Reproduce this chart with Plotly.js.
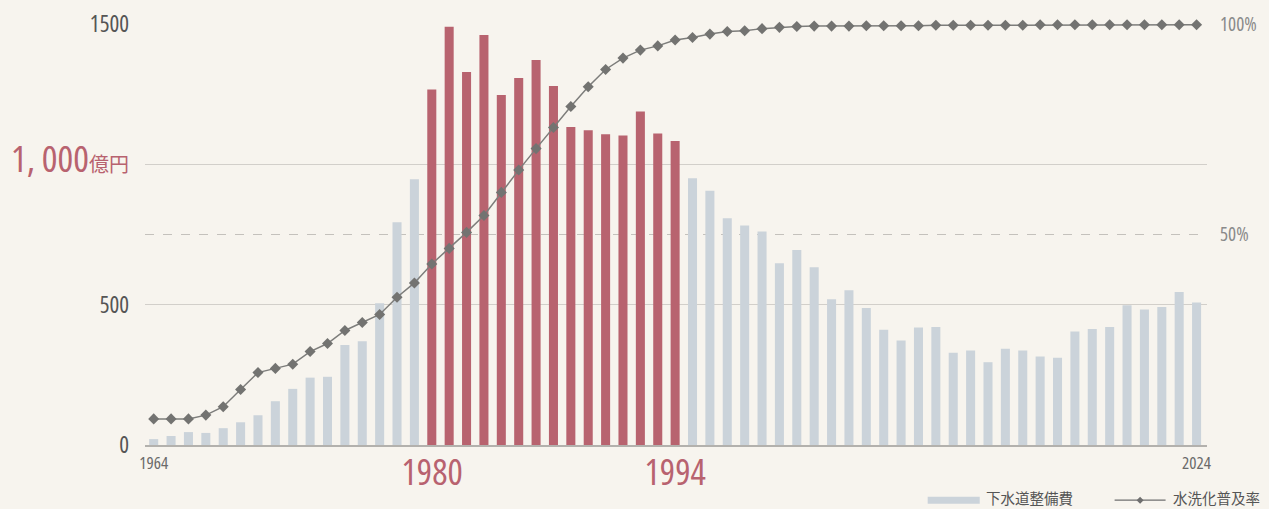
<!DOCTYPE html>
<html>
<head>
<meta charset="utf-8">
<script src="https://cdn.plot.ly/plotly-3.0.1.min.js"></script>
<style>
  html, body { margin: 0; padding: 0; background: #f7f4ee; }
  #chart { width: 1269px; height: 509px; }
  #chart text { font-stretch: 75%; }
</style>
</head>
<body>
<div id="chart"></div>
<script>
// ---- data ----
const years = [];
for (let y = 1964; y <= 2024; y++) years.push(y);

// 下水道整備費 (億円)
const spending = [
  21, 32, 46, 43, 60, 81, 106, 156, 200, 240,
  243, 356, 370, 505, 794, 947, 1267, 1490, 1329, 1461,
  1247, 1308, 1372, 1279, 1133, 1121, 1107, 1103, 1188, 1110,
  1083, 950, 906, 808, 782, 761, 648, 695, 633, 519,
  551, 488, 411, 372, 419, 420, 329, 337, 295, 343,
  337, 315, 311, 404, 413, 420, 498, 483, 492, 545,
  508
];

// 水洗化普及率 (%)
const rate = [
  6.2, 6.2, 6.2, 7.1, 9.1, 13.2, 17.2, 18.2, 19.2, 22.2,
  24.1, 27.2, 29.1, 31.0, 35.1, 38.5, 43.0, 46.7, 50.5, 54.5,
  60.0, 65.3, 70.4, 75.4, 80.4, 85.1, 89.2, 91.9, 93.8, 94.8,
  96.2, 96.8, 97.6, 98.2, 98.4, 98.9, 99.2, 99.4, 99.5, 99.5,
  99.5, 99.6, 99.6, 99.6, 99.6, 99.7, 99.7, 99.7, 99.7, 99.7,
  99.7, 99.8, 99.8, 99.8, 99.8, 99.8, 99.8, 99.8, 99.8, 99.8,
  99.8
];

const highlightStart = 1980;
const highlightEnd = 1994;

const leftTicks = [0, 500, 1000, 1500];
const leftTickText = ['0', '500',
  "<span style='font-size:37px;color:#b8626f'>1, 000</span><span style='font-family:Noto Sans CJK JP;font-size:20px;color:#b8626f'>億円</span>",
  '1500'];
const rightTicks = [50, 100];
const rightTickText = ['50%', '100%'];
const xTicks = [1964, 2024];
const xTickText = ['1964', '2024'];
const highlightLabels = [1980, 1994];

// ---- style ----
const RED = '#b8636f';
const GREY = '#cbd3da';
const FONT = "'Open Sans', 'DejaVu Sans', sans-serif";
const barColors = years.map(y => (y >= highlightStart && y <= highlightEnd) ? RED : GREY);

const bars = {
  type: 'bar', x: years, y: spending, name: '下水道整備費',
  marker: { color: barColors, line: { width: 0 } },
  width: 0.52, hoverinfo: 'x+y', showlegend: false
};
const line = {
  type: 'scatter', mode: 'lines+markers', x: years, y: rate, yaxis: 'y2',
  name: '水洗化普及率', line: { color: '#7d7d7b', width: 1.5 },
  marker: { symbol: 'diamond', size: 8.5, color: '#737371' },
  cliponaxis: false, showlegend: false
};

// legend geometry in paper units
const pxX = 1 / 1062, pxY = 1 / 421;
const legY = -0.131;
const txtY = -0.124;
const dX = 0.937;

const layout = {
  width: 1269, height: 509,
  paper_bgcolor: '#f7f4ee', plot_bgcolor: '#f7f4ee',
  margin: { l: 145, r: 62, t: 24, b: 64 },
  font: { family: FONT, color: '#5b5b5b' },
  xaxis: {
    range: [1963.5, 2024.6], showgrid: false, zeroline: false,
    showline: true, linecolor: '#b3b1ad', linewidth: 2,
    tickmode: 'array', tickvals: xTicks, ticktext: xTickText,
    tickfont: { size: 17, color: '#6a6a6a', family: FONT },
    ticks: '', ticklabelstandoff: 2
  },
  yaxis: {
    range: [0, 1500], tickmode: 'array', tickvals: leftTicks, ticktext: leftTickText,
    tickfont: { size: 23, color: '#555555', family: FONT },
    showgrid: true, gridcolor: '#d2cfca', gridwidth: 1.5,
    zeroline: false, showline: false, ticks: '', ticklabelstandoff: 15
  },
  yaxis2: {
    range: [0, 100], overlaying: 'y', side: 'right',
    tickmode: 'array', tickvals: rightTicks, ticktext: rightTickText,
    tickfont: { size: 19, color: '#8a8a8a', family: FONT },
    showgrid: true, gridcolor: '#c4c1bc', gridwidth: 1.2, griddash: 'dash',
    zeroline: false, showline: false, ticks: '', ticklabelstandoff: 12
  },
  shapes: [
    { type: 'rect', xref: 'paper', yref: 'paper', x0: 0.737, x1: 0.786, y0: legY - 3.5 * pxY, y1: legY + 3.5 * pxY,
      fillcolor: '#cbd3da', line: { width: 0 } },
    { type: 'line', xref: 'paper', yref: 'paper', x0: 0.913, x1: 0.961, y0: legY, y1: legY,
      line: { color: '#6f6f6f', width: 1.2 } },
    { type: 'path', xref: 'paper', yref: 'paper',
      path: `M ${dX - 3.5 * pxX} ${legY} L ${dX} ${legY + 3.5 * pxY} L ${dX + 3.5 * pxX} ${legY} L ${dX} ${legY - 3.5 * pxY} Z`,
      fillcolor: '#6f6f6f', line: { width: 0 } }
  ],
  annotations: highlightLabels.map(yr => ({
    xref: 'x', yref: 'paper', x: yr, y: 0.0, xanchor: 'center', yanchor: 'top',
    text: String(yr), showarrow: false,
    font: { family: FONT, size: 36, color: '#b8626f' }
  })).concat([
    { xref: 'paper', yref: 'paper', x: 0.791, y: txtY, xanchor: 'left', yanchor: 'middle',
      text: '下水道整備費', showarrow: false, borderpad: 0,
      font: { family: 'Noto Sans CJK JP', size: 14.5, color: '#555555' } },
    { xref: 'paper', yref: 'paper', x: 0.967, y: txtY, xanchor: 'left', yanchor: 'middle',
      text: '水洗化普及率', showarrow: false, borderpad: 0,
      font: { family: 'Noto Sans CJK JP', size: 14.5, color: '#555555' } }
  ])
};

Plotly.newPlot('chart', [bars, line], layout, { displayModeBar: false, staticPlot: true });
</script>
</body>
</html>
